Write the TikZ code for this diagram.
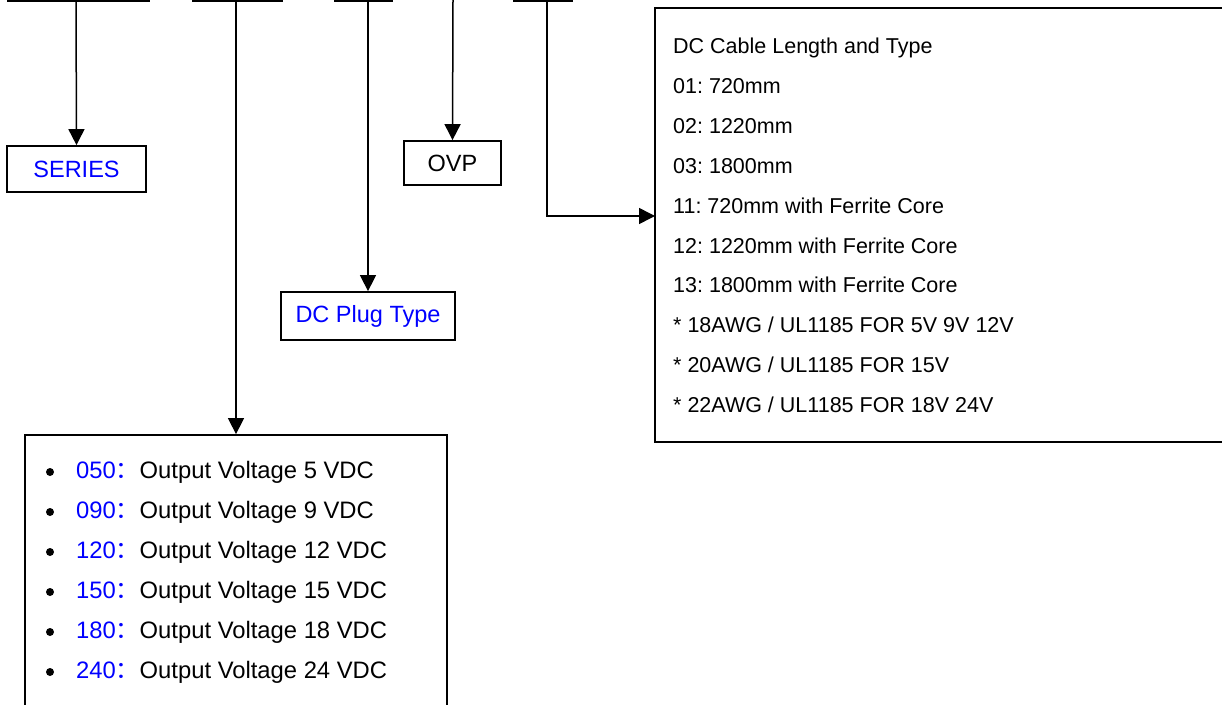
\documentclass[tikz,border=0pt]{standalone}
\usepackage{fontspec}
\setmainfont{Liberation Sans}
\newfontfamily\cjk{Noto Sans CJK SC}
\usetikzlibrary{arrows.meta}
\definecolor{tblue}{RGB}{0,0,255}
\frenchspacing
\begin{document}
\begin{tikzpicture}[x=1pt,y=-1pt,
  bar/.style={line width=2pt},
  conn/.style={line width=1.5pt,-{Triangle[length=16pt,width=16pt]}},
  box/.style={draw,line width=1.8pt,inner sep=0pt,font=\fontsize{23.5}{28}\selectfont},
  bigbox/.style={draw,line width=1.8pt,inner sep=0pt},
  vtxt/.style={anchor=base west,inner sep=0pt,font=\fontsize{23.8}{28}\selectfont},
  ctxt/.style={anchor=base west,inner sep=0pt,font=\fontsize{21.5}{26}\selectfont},
  bul/.style={circle,fill,inner sep=0pt,minimum size=8pt}]
\useasboundingbox (0,0) rectangle (1222,704);
\clip (0,0) rectangle (1222,704);
% top bars
\draw[bar] (7,1) -- (150,1);
\draw[bar] (192,1) -- (283,1);
\draw[bar] (334,1) -- (393,1);
\draw[bar] (513,1) -- (573,1);
% top coordinates
\coordinate (s0) at (76,0);
\coordinate (v0) at (236,0);
\coordinate (p0) at (368,0);
\coordinate (o0) at (453,0);
\coordinate (c0) at (547,0);
% boxes
\node[box,text=tblue,minimum width=139pt,minimum height=46pt] (series) at (76.5,169) {SERIES};
\node[box,minimum width=97pt,minimum height=44pt] (ovp) at (452.5,163) {OVP};
\node[box,text=tblue,minimum width=174pt,minimum height=48pt] (plug) at (368,316) {DC Plug Type};
\node[bigbox,minimum width=422pt,minimum height=300pt] (vbox) at (236,585) {};
\node[bigbox,minimum width=590pt,minimum height=434pt] (cbox) at (950,225) {};
\coordinate (cin) at (655,216);
% connectors
\draw[conn] (s0) -- (series.north);
\draw[conn] (v0) -- (vbox.north);
\draw[conn] (p0) -- (plug.north);
\draw[conn] (o0) -- (ovp.north);
\draw[conn] (c0) |- (cin);
% voltage list
\foreach \n/\v [count=\i from 0] in {050/5,090/9,120/12,150/15,180/18,240/24}{
  \node[bul] (b\i) at (50,472+40*\i) {};
  \node[vtxt] (t\i) at (76,478+40*\i) {\textcolor{tblue}{\n{\cjk ：}}Output Voltage \v{} VDC};
}
% cable list
\foreach \t [count=\i from 0] in {DC Cable Length and Type,01: 720mm,02: 1220mm,03: 1800mm,11: 720mm with Ferrite Core,12: 1220mm with Ferrite Core,13: 1800mm with Ferrite Core,* 18AWG / UL1185 FOR 5V 9V 12V,* 20AWG / UL1185 FOR 15V,* 22AWG / UL1185 FOR 18V 24V}{
  \node[ctxt] (c\i) at (673,53.5+39.9*\i) {\t};
}
\end{tikzpicture}
\end{document}
